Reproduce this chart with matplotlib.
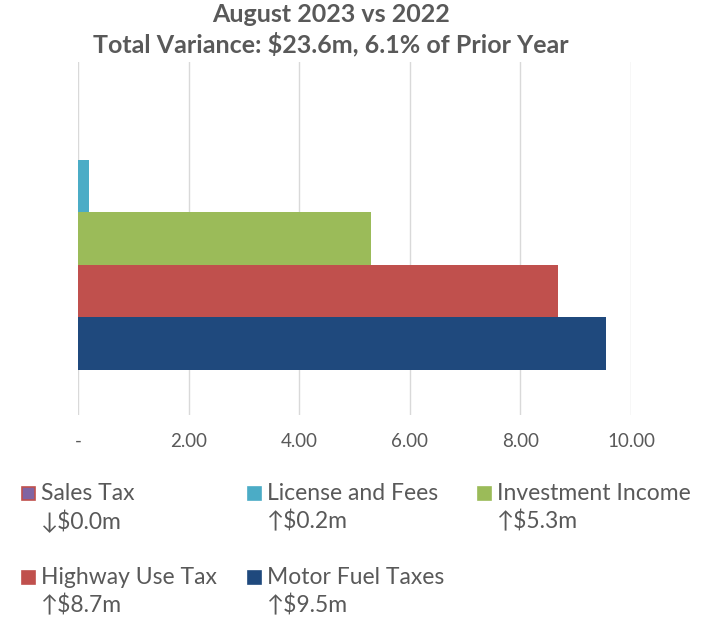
import matplotlib
matplotlib.use("Agg")
import matplotlib.pyplot as plt
from matplotlib.patches import Rectangle

plt.rcParams['font.family'] = ['Lato', 'DejaVu Sans']

# series, drawn bottom to top
series = ["Motor Fuel Taxes", "Highway Use Tax", "Investment Income", "License and Fees", "Sales Tax"]
values = [9.55, 8.68, 5.30, 0.20, 0.0]
colors = ["#1F497D", "#C0504D", "#9BBB59", "#4BACC6", "#8064A2"]
changes = ["\u2191$9.5m", "\u2191$8.7m", "\u2191$5.3m", "\u2191$0.2m", "\u2193$0.0m"]
xticks = [0, 2, 4, 6, 8, 10]
xticklabels = ["-", "2.00", "4.00", "6.00", "8.00", "10.00"]

fig = plt.figure(figsize=(7.01, 6.2), dpi=100)
ax = fig.add_axes([78 / 701, 1 - 415 / 620, (631 - 78) / 701, 353 / 620])

bh = 0.1486
n = len(series)
for i, (v, c) in enumerate(zip(values, colors)):
    y = (i - (n - 1) / 2) * bh
    ax.barh(y, v, height=bh, color=c, zorder=3)

ax.set_xlim(0, 10)
ax.set_ylim(-0.5, 0.5)
ax.set_xticks(xticks)
ax.set_xticklabels(xticklabels, color="#595959", fontsize=13.5)
ax.set_yticks([])
ax.tick_params(axis='x', length=0, pad=13)
ax.grid(axis='x', color="#D9D9D9", lw=1, zorder=0)
for s in ax.spines.values():
    s.set_visible(False)

fig.text(331 / 701, 1 - 15 / 620, "August 2023 vs 2022", ha='center', va='center',
         fontsize=18, fontweight='bold', color="#595959")
fig.text(331 / 701, 1 - 44 / 620, "Total Variance: $23.6m, 6.1% of Prior Year", ha='center', va='center',
         fontsize=18, fontweight='bold', color="#595959")

# legend, Excel-like order: top series first
order = [4, 3, 2, 1, 0]
col_x = [22, 248, 478]
row_y = [493, 577]
for k, idx in enumerate(order):
    px = col_x[k % 3]
    py = row_y[k // 3]
    edge = "#C0504D" if series[idx] == "Sales Tax" else colors[idx]
    fig.patches.append(Rectangle((px / 701, 1 - (py + 7) / 620), 13 / 701, 13 / 620,
                                 transform=fig.transFigure, facecolor=colors[idx],
                                 edgecolor=edge, lw=1.2))
    fig.text((px + 19) / 701, 1 - py / 620, series[idx], ha='left', va='center',
             fontsize=16.5, color="#595959")
    fig.text((px + 19) / 701, 1 - (py + 28) / 620, changes[idx], ha='left', va='center',
             fontsize=16.5, color="#595959")

fig.savefig("out.png", dpi=100)
